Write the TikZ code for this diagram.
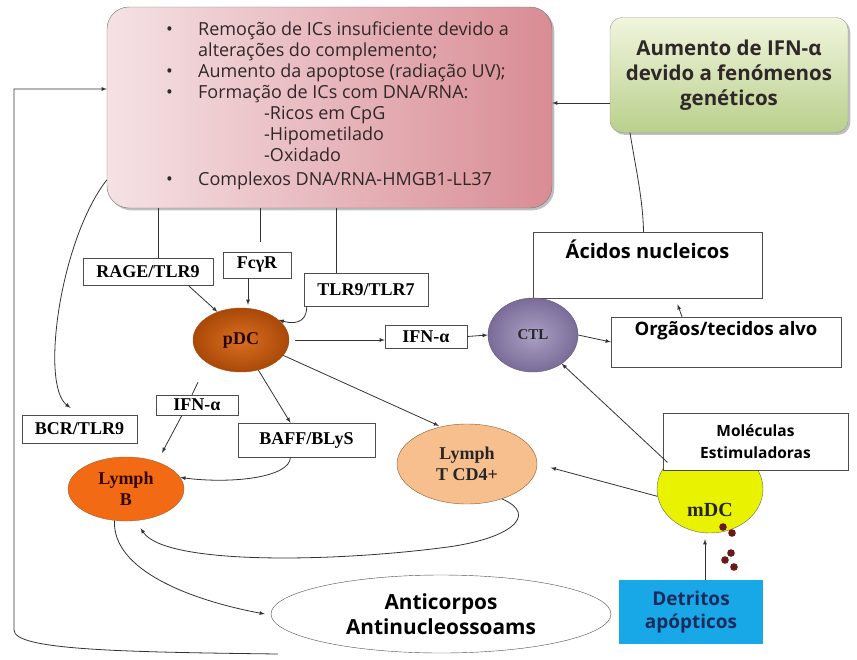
\documentclass[tikz,border=0pt]{standalone}
\usepackage{fontspec}
\setmainfont{Liberation Serif}
\newfontfamily\gill{Open Sans}
\usepackage{tikz}
\usetikzlibrary{shapes.geometric,shadows,calc}

\definecolor{pinkL}{HTML}{F5E2E5}
\definecolor{pinkD}{HTML}{D98C94}
\definecolor{greenL}{HTML}{F1F5DD}
\definecolor{greenD}{HTML}{B9D08C}
\definecolor{pdcIn}{HTML}{DA7020}
\definecolor{pdcOut}{HTML}{A94808}
\definecolor{ctlIn}{HTML}{ABA0C4}
\definecolor{ctlOut}{HTML}{7A6C98}
\definecolor{lbFill}{HTML}{F26A14}
\definecolor{tcdFill}{HTML}{F7BF8E}
\definecolor{mdcFill}{HTML}{E9F200}
\definecolor{detBlue}{HTML}{18A8E8}
\definecolor{detText}{HTML}{1C2A5E}
\definecolor{dotRed}{HTML}{6B1818}
\definecolor{txtDark}{HTML}{302828}

\begin{document}
\begin{tikzpicture}[x=1pt,y=-1pt,>=latex,
                        lbl/.style={draw=black!70,fill=white,inner sep=0pt,font=\bfseries\fontsize{18}{20}\selectfont},
                        sbox/.style={draw=black!70,fill=white,inner sep=0pt,font=\gill\bfseries\fontsize{18.5}{22}\selectfont},
                        cell/.style={ellipse,inner sep=0pt,align=center,font=\bfseries\fontsize{18}{21}\selectfont},
                        con/.style={draw=black!80,line width=0.8pt}]
                        \useasboundingbox (0,0) rectangle (857,659);
                        % caixas de cima
                        \node [draw=black!55,rounded corners=22pt,left color=pinkL,right color=pinkD,
                               minimum width=445pt,minimum height=201pt,drop shadow] (ics) at (329.5, 107.5) {};
                        \node [anchor=north west,align=left,inner sep=0pt,text=txtDark,
                               font=\gill\fontsize{18}{21}\selectfont] (icstext) at (166, 22)
                              {\makebox[32pt][l]{\textbullet}Remoção de ICs insuficiente devido a\\
                               \hspace*{32pt}alterações do complemento;\\
                               \makebox[32pt][l]{\textbullet}Aumento da apoptose (radiação UV);\\
                               \makebox[32pt][l]{\textbullet}Formação de ICs com DNA/RNA:\\
                               \hspace*{98pt}-Ricos em CpG\\
                               \hspace*{98pt}-Hipometilado\\
                               \hspace*{98pt}-Oxidado\\[3pt]
                               \makebox[32pt][l]{\textbullet}Complexos DNA/RNA-HMGB1-LL37};
                        \node [draw=black!40,rounded corners=12pt,top color=greenL,bottom color=greenD,
                               minimum width=238pt,minimum height=115pt,drop shadow,align=center,text=txtDark,
                               font=\gill\bfseries\fontsize{20.5}{25}\selectfont] (gen) at (729, 75)
                              {Aumento de IFN-α\\devido a fenómenos\\genéticos};
                        \node [sbox,minimum width=229pt,text height=26pt,text depth=40pt,
                               font=\gill\bfseries\fontsize{20}{22}\selectfont] (acid) at (647.5, 265) {Ácidos nucleicos};
                        \node [sbox,minimum width=230pt,text height=18pt,text depth=32pt] (org) at (726, 342) {Orgãos/tecidos alvo};
                        % receptores
                        \node [lbl,minimum width=130pt,minimum height=27pt] (rage) at (148, 271.5) {RAGE/TLR9};
                        \node [lbl,minimum width=68pt,minimum height=26pt] (fcr) at (257, 265) {FcγR};
                        \node [lbl,minimum width=124pt,minimum height=33pt] (tlr) at (366, 289.5) {TLR9/TLR7};
                        \node [lbl,minimum width=82pt,minimum height=23pt] (ifna) at (426, 336.5) {IFN-α};
                        \node [lbl,minimum width=82pt,minimum height=20pt] (ifnb) at (197, 405) {IFN-α};
                        \node [lbl,minimum width=137pt,minimum height=34pt] (baff) at (306.5, 440) {BAFF/BLyS};
                        \node [lbl,minimum width=115pt,minimum height=28pt] (bcr) at (79.5, 429) {BCR/TLR9};
                        % celulas
                        \node [cell,draw=pdcOut,inner color=pdcIn,outer color=pdcOut,minimum width=96pt,minimum height=64pt,text=black!85!red] (pdc) at (241, 340) {pDC};
                        \node [cell,draw=ctlOut!80!black,inner color=ctlIn,outer color=ctlOut,minimum width=90pt,minimum height=74pt,text=black!85,
                               font=\bfseries\fontsize{15}{18}\selectfont] (ctl) at (533, 335) {CTL};
                        \node [cell,draw=brown!80!black,fill=lbFill,minimum width=116pt,minimum height=64pt,text=black!80!red] (lb) at (126, 489) {Lymph\\B};
                        \node [cell,draw=brown!70!black,fill=tcdFill,minimum width=140pt,minimum height=80pt,text=black!85] (tcd) at (467, 464) {Lymph\\T CD4+};
                        \node [cell,draw=black!60,fill=mdcFill,minimum width=106pt,minimum height=88pt] (mdc) at (710, 489) {};
                        \node [font=\bfseries\fontsize{20}{22}\selectfont,text=black!85] (mdctxt) at (710, 510) {mDC};
                        \node [sbox,align=center,minimum width=185pt,minimum height=57pt,
                               font=\gill\bfseries\fontsize{15.5}{22}\selectfont] (mol) at (755.5, 441.5) {Moléculas\\Estimuladoras};
                        \node [ellipse,draw=black!70,fill=white,inner sep=0pt,align=center,minimum width=340pt,minimum height=78pt,
                               font=\gill\bfseries\fontsize{20.8}{25}\selectfont] (anti) at (441, 614) {Anticorpos\\Antinucleossoams};
                        \node [fill=detBlue,minimum width=144pt,minimum height=64pt,align=center,text=detText,
                               font=\gill\bfseries\fontsize{19}{23}\selectfont] (det) at (691, 612) {Detritos\\apópticos};
                        \foreach \p in {(723,527),(732,533),(731,553),(725,560),(734,567)}
                        {
                            \fill [dotRed] \p circle (3.8pt);
                        }
                        % ligacoes
                        \draw [con] ([xshift=10pt]rage.north) -- ([xshift=10pt]rage.north |- ics.south);
                        \draw [con,shorten <=10pt] ([xshift=3pt]fcr.north) -- ([xshift=3pt]fcr.north |- ics.south);
                        \draw [con] ([xshift=-30pt]tlr.north) -- ([xshift=-30pt]tlr.north |- ics.south);
                        \draw [con,->] ([xshift=40pt]rage.south) -- (pdc.130);
                        \draw [con,->,shorten >=3pt] ([xshift=-9pt]fcr.south) -- ([xshift=-9pt]fcr.south |- pdc.north);
                        \draw [con,->] ([xshift=3pt]tlr.south west) .. controls (307, 318) and (300, 326) .. (pdc.28);
                        \draw [con,->,shorten <=6pt] (pdc.east) -- (pdc.east -| ifna.west);
                        \draw [con,->] (ifna.east) -- (ctl.west);
                        \draw [con,->] (ctl.east) -- (org.west);
                        \draw [con,->] ([xshift=-44pt]org.north) -- ([xshift=30pt,yshift=-6pt]acid.south);
                        \draw [con,->] ([yshift=-28pt]gen.west) -- ([yshift=-28pt]gen.west -| ics.east);
                        \draw [con] ([xshift=-99pt]gen.south) .. controls (636, 170) and (643, 200) .. ([xshift=-4pt]acid.north);
                        \draw [con,->] (ics.198) .. controls (60, 240) and (40, 385) .. ([xshift=-9pt,yshift=7pt]bcr.north);
                        \draw [con,->] (pdc.-60) -- ([xshift=-16pt]baff.north);
                        \draw [con,->,shorten >=2pt] (pdc.-20) -- (tcd.125);
                        \draw [con] ([xshift=-5pt]ifnb.north) -- ([xshift=-43pt,yshift=-10pt]pdc.south);
                        \draw [con,->] ([xshift=-15pt]ifnb.south) -- ([xshift=36pt,yshift=4pt]lb.north);
                        \draw [con,->] ([xshift=-16pt]baff.south) .. controls (290, 478) and (230, 484) .. (lb.12);
                        \draw [con,->] (lb.250) .. controls (112, 570) and (190, 600) .. ([xshift=-6pt]anti.west);
                        \draw [con,->] (tcd.-45) .. controls (540, 515) and (510, 540) .. (440, 548)
                                             .. controls (330, 562) and (165, 565) .. ([yshift=-8pt]lb.-65);
                        \draw [con,->] (mdc.148) -- (ctl.-45);
                        \draw [con,->,shorten >=14pt] (mdc.188) -- (tcd.east);
                        \draw [con,->,shorten >=6pt] ([xshift=14pt]det.north) -- ([xshift=14pt]det.north |- mdc.south);
                        \coordinate (fend) at (278, 654);
                        \coordinate (fcorner) at (14, 89);
                        \draw [con,->] (fend) .. controls (120, 652) and (14, 650) .. (14, 630) -- (fcorner) -- (fcorner -| ics.west);
                    \end{tikzpicture}
\end{document}
